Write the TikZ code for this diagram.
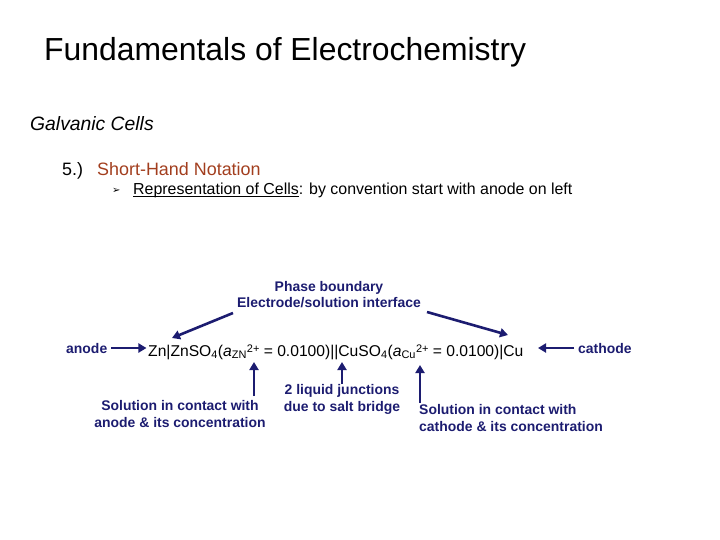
\documentclass[tikz,border=0pt]{standalone}
\usepackage{fontspec}
\setmainfont{Liberation Sans}
\newfontfamily\symfont{DejaVu Sans}
\usetikzlibrary{arrows.meta}
\definecolor{navy}{RGB}{28,28,112}
\definecolor{rust}{RGB}{162,62,30}
\newcommand{\subsup}[2]{\textsubscript{#1}\raisebox{0.45ex}{\fontsize{11}{12}\selectfont #2}}
\newcommand{\undl}[1]{\setbox0\hbox{#1}\rlap{\rule[-1.8bp]{\wd0}{0.9bp}}\box0}

\begin{document}
\begin{tikzpicture}[x=1bp, y=-1bp,
    lbl/.style={font=\fontsize{14}{17}\selectfont\bfseries, text=navy, inner sep=0pt},
    pointer/.style={draw=navy, line width=2.6bp, -{Triangle[length=8bp, width=9bp]}}]

\useasboundingbox (0,0) rectangle (720,540);

% ---- Capçalera ----
\node[anchor=base west, inner sep=0pt, font=\fontsize{32}{38}\selectfont] (title) at (44,61) {Fundamentals of Electrochemistry};
\node[anchor=base west, inner sep=0pt, font=\fontsize{19.4}{23}\selectfont\itshape] (section) at (30,131) {Galvanic Cells};
\node[anchor=base west, inner sep=0pt, font=\fontsize{18}{21}\selectfont] (num) at (62,176) {5.)};
\node[anchor=base west, inner sep=0pt, font=\fontsize{18}{21}\selectfont, text=rust] (topic) at (97,176) {Short-Hand Notation};
\node[anchor=base west, inner sep=0pt, font=\fontsize{10}{11}\selectfont\symfont] (bullet) at (112,194) {➢};
\node[anchor=base west, inner sep=0pt, font=\fontsize{16}{19}\selectfont] (rule) at (133,195) {\undl{Representation of Cells}: by convention start with anode on left};

% ---- Notació de la pila ----
\node[anchor=base west, inner sep=0pt, font=\fontsize{15.7}{19}\selectfont] (cell) at (148,356)
    {Zn|ZnSO\textsubscript{4}(\textit{a}\subsup{ZN}{2+} = 0.0100)||CuSO\textsubscript{4}(\textit{a}\subsup{Cu}{2+} = 0.0100)|Cu};
\node[lbl, anchor=base west] (anode) at (66,353) {anode};
\node[lbl, anchor=base west] (cathode) at (578,353) {cathode};

% ---- Etiquetes ----
\node[lbl, anchor=base] (phase) at (329,291) {Phase boundary};
\node[lbl, anchor=base] (interface) at (329,307) {Electrode/solution interface};
\node[lbl, anchor=base, align=center] (anodesol) at (180,427) {Solution in contact with\\anode \& its concentration};
\node[lbl, anchor=base, align=center] (junction) at (342,411) {2 liquid junctions\\due to salt bridge};
\node[lbl, anchor=base west, align=left] (cathodesol) at (419,431) {Solution in contact with\\cathode \& its concentration};

% ---- Punts de la fórmula ----
\coordinate (znbar) at (172,338);
\coordinate (cubar) at (508,335);
\coordinate (znsol) at (254,362);
\coordinate (bridge) at (342,362);
\coordinate (cusol) at (420,365);

% ---- Fletxes ----
\draw[pointer] (anode.east) ++(4,0) -- ++(35,0);
\draw[pointer] (cathode.west) ++(-4,0) -- ++(-36,0);
\draw[pointer] (233,313) coordinate (p1) -- (znbar);
\draw[pointer] (427,312) coordinate (p2) -- (cubar);
\draw[pointer] (254,396) coordinate (s1) -- (znsol);
\draw[pointer] (342,384) coordinate (s2) -- (bridge);
\draw[pointer] (420,403) coordinate (s3) -- (cusol);

\end{tikzpicture}
\end{document}
